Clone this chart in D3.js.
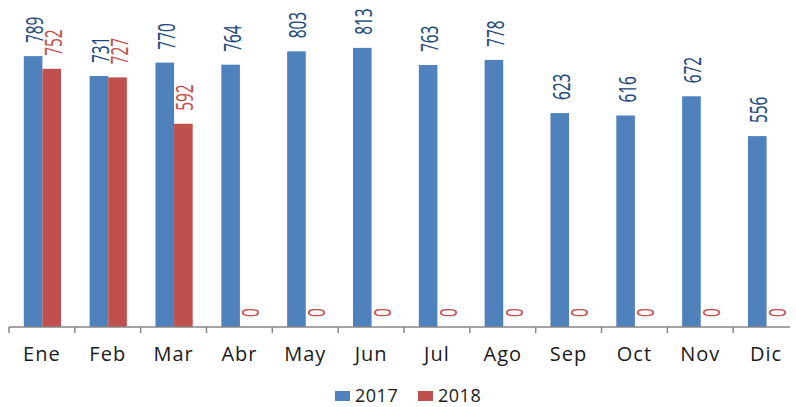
<!DOCTYPE html>
<html><head><meta charset="utf-8">
<script src="https://cdn.jsdelivr.net/npm/d3@7"></script>
<style>body{margin:0;background:#fff}svg{display:block}</style>
</head><body>
<svg id="c" width="796" height="407"></svg>
<script>
const months = ["Ene","Feb","Mar","Abr","May","Jun","Jul","Ago","Sep","Oct","Nov","Dic"];
const seriesNames = ["2017","2018"];
const values2017 = [789,731,770,764,803,813,763,778,623,616,672,556];
const values2018 = [752,727,592,0,0,0,0,0,0,0,0,0];
const barColors = ["#4F81BD","#C0504D"];
const labelColors = ["#1F497D","#C0504D"];

const svg = d3.select("#c");
const x = d3.scaleBand().domain(months).range([9, 799]).padding(0);
const bw = x.bandwidth();
const xs = d3.scaleBand().domain(seriesNames).range([bw*0.225, bw*0.79]).padding(0);
const y = d3.scaleLinear().domain([0, 900]).range([327, 18]);

const data = months.map((m,i)=>({m, vals:[values2017[i], values2018[i]]}));

const g = svg.append("g");
data.forEach(d=>{
  d.vals.forEach((v,si)=>{
    const bx = x(d.m)+xs(seriesNames[si]);
    if (v>0) {
      g.append("rect").attr("x",bx).attr("y",y(v)).attr("width",xs.bandwidth()).attr("height",y(0)-y(v))
        .attr("fill",barColors[si]);
    }
    const cx = bx + xs.bandwidth()/2 + 10;
    const ty = y(v) - (v>0 ? 13 : 10);
    g.append("text").attr("transform",`translate(${cx},${ty}) rotate(-90) scale(0.67,1)`)
      .attr("font-family","Open Sans").attr("font-size",23).attr("fill",labelColors[si])
      .attr("stroke",labelColors[si]).attr("stroke-width",0.15)
      .attr("text-anchor","start").text(v);
  });
});

// axis
const axis = d3.axisBottom(x).tickSize(0).tickSizeOuter(0);
const ax = svg.append("g").attr("transform","translate(0,327)").call(axis);
ax.select(".domain").attr("stroke","#868686").attr("stroke-width",1.5).attr("d","M9,0H790");
ax.selectAll(".tick text").attr("font-family","Open Sans").attr("font-size",20).attr("letter-spacing",1)
  .attr("fill","#1a1a1a").attr("dy",0).attr("y",34);
// category boundary ticks
const edges = months.map(m=>x(m)).filter(v=>v<=790);
ax.selectAll(".edge").data(edges).enter().append("line").attr("class","edge")
  .attr("x1",d=>d).attr("x2",d=>d).attr("y1",0).attr("y2",6).attr("stroke","#868686").attr("stroke-width",1.5);

// legend
const leg = svg.append("g");
const legX = [335, 418];
seriesNames.forEach((s,i)=>{
  leg.append("rect").attr("x",legX[i]).attr("y",391).attr("width",15).attr("height",10).attr("fill",barColors[i]);
  leg.append("text").attr("x",legX[i]+20).attr("y",402).attr("font-family","Open Sans").attr("font-size",18)
    .attr("letter-spacing",0.5).attr("fill","#1a1a1a").text(s);
});
</script>
</body></html>
